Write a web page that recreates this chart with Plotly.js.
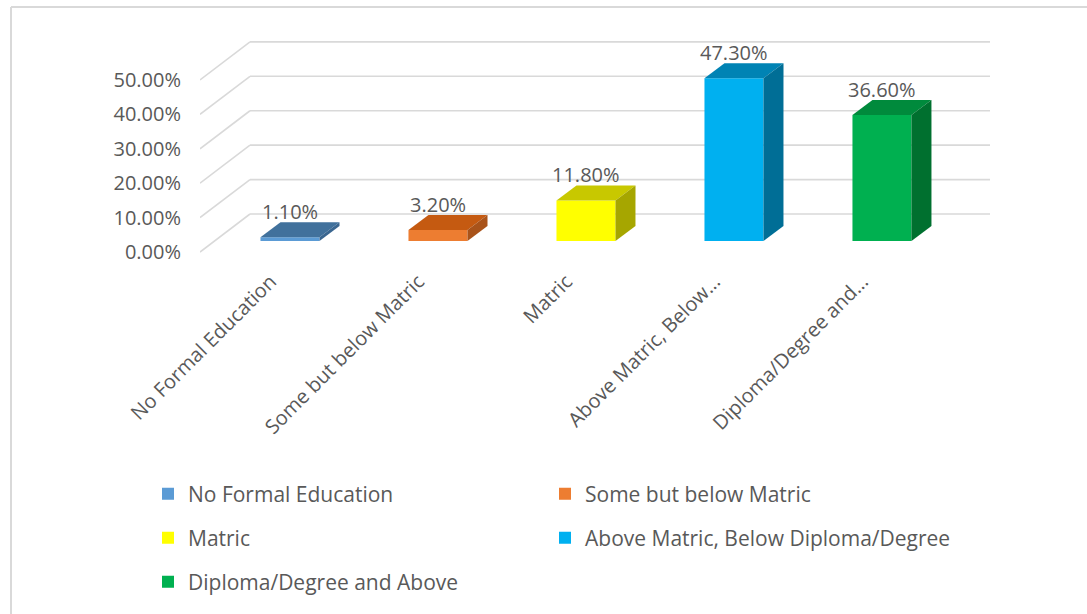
<!DOCTYPE html>
<html>
<head>
<meta charset="utf-8">
<script src="https://cdn.plot.ly/plotly-3.0.1.min.js"></script>
<style>html,body{margin:0;padding:0;background:#fff;}#chart{width:1087px;height:614px;}</style>
</head>
<body>
<div id="chart"></div>
<script>
// ---- data ----
const categories = ['No Formal Education', 'Some but below Matric', 'Matric', 'Above Matric, Below Diploma/Degree', 'Diploma/Degree and Above'];
const tickLabels = ['No Formal Education', 'Some but below Matric', 'Matric', 'Above Matric, Below...', 'Diploma/Degree and...'];
const values = [1.1, 3.2, 11.8, 47.3, 36.6];
const yTicks = [0, 10, 20, 30, 40, 50];
const frontColors = ['#5B9BD5', '#ED7D31', '#FFFF00', '#00B0F0', '#00B050'];
const topColors = ['#41719C', '#C55A11', '#C8C800', '#0083B4', '#008A3C'];
const sideColors = ['#3A6690', '#A9531A', '#A6A600', '#006E96', '#00702F'];

// ---- geometry (pixel scale of the axes) ----
const W = 1087, H = 614;
const M = {l: 200, r: 97, t: 30, b: 354};
const plotW = W - M.l - M.r, plotH = H - M.t - M.b;
const xRange = [-0.608, 4.73];
const yRange = [-5.52, 61.3];
const pxX = plotW / (xRange[1] - xRange[0]);   // px per category unit
const pxY = plotH / (yRange[1] - yRange[0]);   // px per percent
const toDX = p => p / pxX, toDY = p => p / pxY;
const barW = toDX(59);
const depthX = toDX(20), depthY = toDY(15);          // bar depth
const frontX = toDX(-14.5), frontY = toDY(-11);      // floor front edge offset
const backX = toDX(35.5), backY = toDY(27);          // back wall offset

const gridColor = '#D9D9D9';
const textColor = '#595959';
const font = '"Open Sans", Lato, sans-serif';
const fs = 20;

const shapes = [];
// gridlines: side wall diagonals + back wall
yTicks.forEach(v => {
  shapes.push({type: 'line', xref: 'x', yref: 'y', layer: 'below',
    x0: xRange[0], y0: v + frontY, x1: xRange[0] + (backX - frontX), y1: v + backY,
    line: {color: gridColor, width: 1.6}});
  shapes.push({type: 'line', xref: 'x', yref: 'y', layer: 'below',
    x0: xRange[0] + (backX - frontX), y0: v + backY, x1: xRange[1], y1: v + backY,
    line: {color: gridColor, width: 1.6}});
});
// 3D faces of bars
values.forEach((v, i) => {
  const xl = i - barW / 2, xr = i + barW / 2;
  shapes.push({type: 'path', xref: 'x', yref: 'y', layer: 'above',
    path: `M${xl},${v} L${xr},${v} L${xr + depthX},${v + depthY} L${xl + depthX},${v + depthY} Z`,
    fillcolor: topColors[i], line: {width: 0}});
  shapes.push({type: 'path', xref: 'x', yref: 'y', layer: 'above',
    path: `M${xr},0 L${xr},${v} L${xr + depthX},${v + depthY} L${xr + depthX},${depthY} Z`,
    fillcolor: sideColors[i], line: {width: 0}});
});
// chart frame (left and top edges)
shapes.push({type: 'line', xref: 'paper', yref: 'paper', x0: (11 - M.l) / plotW, x1: (11 - M.l) / plotW,
  y0: 1 + (M.t - 7) / plotH, y1: -(H - M.t - plotH) / plotH - 0.05, line: {color: gridColor, width: 2}});
shapes.push({type: 'line', xref: 'paper', yref: 'paper', x0: (11 - M.l) / plotW, x1: (W + 5 - M.l) / plotW,
  y0: 1 + (M.t - 7) / plotH, y1: 1 + (M.t - 7) / plotH, line: {color: gridColor, width: 2}});

// one legend box per entry, laid out in two columns
const legendIds = ['legend', 'legend2', 'legend3', 'legend4', 'legend5'];
const traces = values.map((v, i) => ({
  type: 'bar', name: categories[i], x: [i], y: [v], width: barW,
  marker: {color: frontColors[i], line: {width: 0}},
  legend: legendIds[i], hoverinfo: 'skip', showlegend: true
}));

const annotations = values.map((v, i) => ({
  x: i, y: v + depthY, xref: 'x', yref: 'y', text: v.toFixed(2) + '%',
  showarrow: false, yanchor: 'bottom', xanchor: 'center', borderpad: 0, yshift: -4,
  font: {family: font, size: fs, color: textColor}
}));

const colX = [148, 545];
const rowPY = [494, 538, 582];
const legendBase = {orientation: 'h', xanchor: 'left', yanchor: 'middle',
  font: {family: font, size: 21, color: textColor}, bgcolor: 'rgba(0,0,0,0)'};

const layout = {
  width: W, height: H, margin: {l: M.l, r: M.r, t: M.t, b: M.b, autoexpand: false},
  paper_bgcolor: '#fff', plot_bgcolor: 'rgba(0,0,0,0)',
  barmode: 'overlay', showlegend: true,
  xaxis: {range: xRange, showgrid: false, zeroline: false, showline: false, ticks: '',
    tickmode: 'array', tickvals: values.map((v, i) => i + frontX + toDX(-5)), ticktext: tickLabels,
    tickangle: -45, ticklabelstandoff: 5, tickfont: {family: font, size: fs, color: textColor}, fixedrange: true},
  yaxis: {range: yRange, showgrid: false, zeroline: false, showline: false, ticks: '',
    tickmode: 'array', tickvals: yTicks.map(t => t + frontY), ticktext: yTicks.map(t => t.toFixed(2) + '%'),
    ticklabelstandoff: 18, tickfont: {family: font, size: fs, color: textColor}, fixedrange: true},
  shapes: shapes, annotations: annotations
};
legendIds.forEach((id, i) => {
  layout[id] = Object.assign({}, legendBase, {
    x: (colX[i % 2] - M.l) / plotW,
    y: (M.t + plotH - rowPY[Math.floor(i / 2)]) / plotH
  });
});

Plotly.newPlot('chart', traces, layout, {displayModeBar: false, staticPlot: true});
</script>
</body>
</html>
